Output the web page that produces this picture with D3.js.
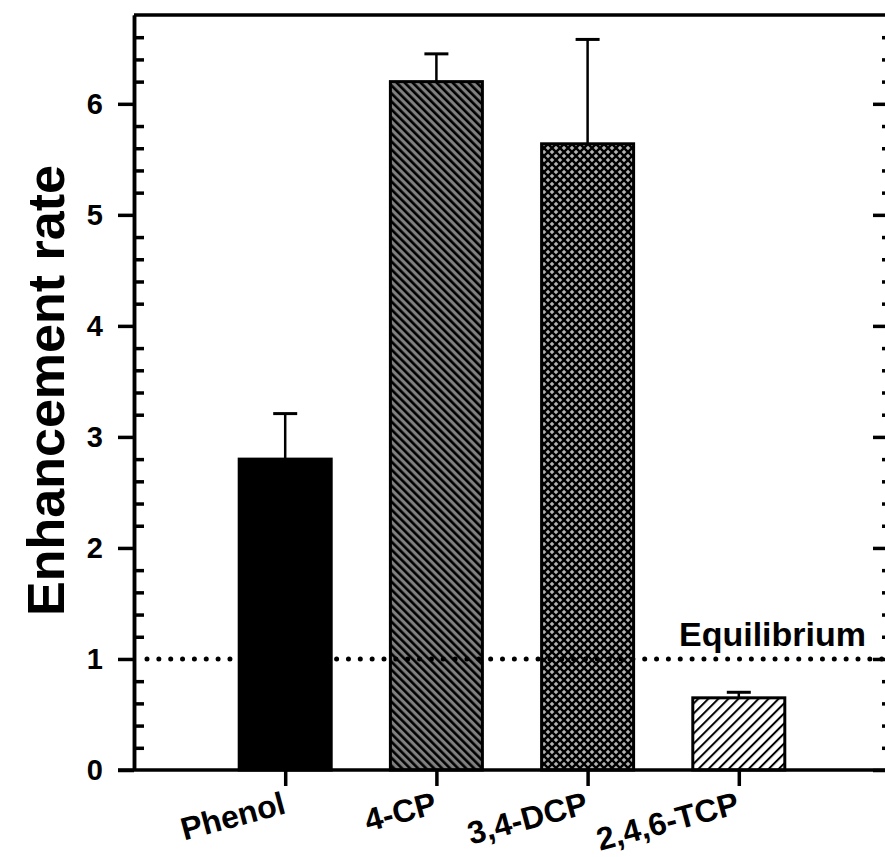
<!DOCTYPE html>
<html>
<head>
<meta charset="utf-8">
<script src="https://cdn.jsdelivr.net/npm/d3@7"></script>
<style>
  body { margin: 0; background: #fff; }
  text { font-family: "Liberation Sans", Arial, sans-serif; font-weight: bold; fill: #000; }
</style>
</head>
<body>
<div class="chart"></div>
<script>
// data
var categories = ["Phenol", "4-CP", "3,4-DCP", "2,4,6-TCP"];
var values = [2.80, 6.20, 5.64, 0.65];
var errors = [0.41, 0.25, 0.94, 0.05];
var patterns = ["solid", "back", "cross", "fwd"];
var majorTicks = [0, 1, 2, 3, 4, 5, 6];
var equilibrium = 1;

var svgWidth = 885;
var svgHeight = 857;

var svg = d3.select(".chart")
  .append("svg")
  .attr("width", svgWidth)
  .attr("height", svgHeight);

// plot frame (the right edge falls just outside the picture)
var plotLeft = 134, plotRight = 890, plotTop = 15, plotBottom = 770;

var y = d3.scaleLinear().domain([0, 6.8]).range([plotBottom, plotTop]);
var x = d3.scalePoint().domain(categories).range([plotLeft, plotRight]).padding(1);
var barWidth = 92;

// patterns
var defs = svg.append("defs");

// grey with black "\" stripes
var pBack = defs.append("pattern")
  .attr("id", "back")
  .attr("patternUnits", "userSpaceOnUse")
  .attr("width", 5.66).attr("height", 10)
  .attr("patternTransform", "rotate(-45)");
pBack.append("rect").attr("width", 5.66).attr("height", 10).attr("fill", "#808080");
pBack.append("rect").attr("width", 2.6).attr("height", 10).attr("fill", "#000");

// white with black "/" stripes
var pFwd = defs.append("pattern")
  .attr("id", "fwd")
  .attr("patternUnits", "userSpaceOnUse")
  .attr("width", 7.1).attr("height", 10)
  .attr("patternTransform", "rotate(45)");
pFwd.append("rect").attr("width", 7.1).attr("height", 10).attr("fill", "#fff");
pFwd.append("rect").attr("width", 2).attr("height", 10).attr("fill", "#000");

// black crosshatch with grey diamonds
var pCross = defs.append("pattern")
  .attr("id", "cross")
  .attr("patternUnits", "userSpaceOnUse")
  .attr("width", 8).attr("height", 8);
pCross.append("rect").attr("width", 8).attr("height", 8).attr("fill", "#000");
[[4, 4], [0, 0], [8, 0], [0, 8], [8, 8]].forEach(function(c) {
  var r = 2.3;
  pCross.append("polygon")
    .attr("points", [[c[0], c[1] - r], [c[0] + r, c[1]], [c[0], c[1] + r], [c[0] - r, c[1]]].join(" "))
    .attr("fill", "#b4b4b4");
});

function fillFor(p) { return p === "solid" ? "#000" : "url(#" + p + ")"; }

// minor tick values
var minorTicks = d3.range(0, 34).map(function(i) { return +(i * 0.2).toFixed(1); })
  .filter(function(v) { return v % 1 !== 0; });

// left axis: major outward, minor inward
svg.append("g")
  .attr("class", "y-axis")
  .attr("transform", "translate(" + plotLeft + ",0)")
  .call(d3.axisLeft(y).tickValues(majorTicks).tickSize(16).tickSizeOuter(0).tickPadding(15).tickFormat(d3.format("d")));
svg.append("g")
  .attr("class", "y-minor")
  .attr("transform", "translate(" + plotLeft + ",0)")
  .call(d3.axisLeft(y).tickValues(minorTicks).tickSize(-10).tickSizeOuter(0).tickFormat(""));

// right axis, ticks inward
svg.append("g")
  .attr("class", "y-right")
  .attr("transform", "translate(" + plotRight + ",0)")
  .call(d3.axisRight(y).tickValues(majorTicks).tickSize(-17).tickSizeOuter(0).tickFormat(""));
svg.append("g")
  .attr("class", "y-right-minor")
  .attr("transform", "translate(" + plotRight + ",0)")
  .call(d3.axisRight(y).tickValues(minorTicks).tickSize(-8).tickSizeOuter(0).tickFormat(""));

// top frame
svg.append("line")
  .attr("x1", plotLeft).attr("x2", plotRight)
  .attr("y1", y(6.8)).attr("y2", y(6.8))
  .attr("stroke", "#000").attr("stroke-width", 3.5);

// bars
svg.append("g").selectAll("rect")
  .data(categories)
  .enter()
  .append("rect")
  .attr("x", function(d) { return x(d) - barWidth / 2; })
  .attr("y", function(d, i) { return y(values[i]); })
  .attr("width", barWidth)
  .attr("height", function(d, i) { return y(0) - y(values[i]); })
  .attr("fill", function(d, i) { return fillFor(patterns[i]); })
  .attr("stroke", "#000")
  .attr("stroke-width", 3);

// error bars (upper only)
var err = svg.append("g").selectAll("g")
  .data(categories)
  .enter()
  .append("g");
err.append("line")
  .attr("x1", function(d) { return x(d); })
  .attr("x2", function(d) { return x(d); })
  .attr("y1", function(d, i) { return y(values[i]); })
  .attr("y2", function(d, i) { return y(values[i] + errors[i]); })
  .attr("stroke", "#000").attr("stroke-width", 2.5);
err.append("line")
  .attr("x1", function(d) { return x(d) - 12; })
  .attr("x2", function(d) { return x(d) + 12; })
  .attr("y1", function(d, i) { return y(values[i] + errors[i]); })
  .attr("y2", function(d, i) { return y(values[i] + errors[i]); })
  .attr("stroke", "#000").attr("stroke-width", 3);

// equilibrium dotted line
svg.append("line")
  .attr("x1", plotLeft + 13).attr("x2", plotRight)
  .attr("y1", y(equilibrium)).attr("y2", y(equilibrium))
  .attr("stroke", "#000")
  .attr("stroke-width", 5)
  .attr("stroke-linecap", "round")
  .attr("stroke-dasharray", "0 11.85");

svg.append("text")
  .attr("x", 866)
  .attr("y", y(equilibrium) - 13)
  .attr("text-anchor", "end")
  .style("font-size", "34px")
  .text("Equilibrium");

// bottom axis
var xAxis = svg.append("g")
  .attr("class", "x-axis")
  .attr("transform", "translate(0," + plotBottom + ")")
  .call(d3.axisBottom(x).tickSize(16).tickSizeOuter(0).tickFormat(""));
xAxis.select(".domain").attr("d", "M" + (plotLeft - 16) + ",0H" + plotRight);

svg.selectAll(".y-axis text")
  .style("font-size", "29px");

svg.selectAll(".domain, .tick line")
  .attr("stroke", "#000")
  .attr("stroke-width", 3.5);

// rotated category labels
svg.append("g").selectAll("text")
  .data(categories)
  .enter()
  .append("text")
  .attr("text-anchor", "end")
  .attr("transform", function(d) { return "translate(" + (x(d) + 2) + "," + (plotBottom + 43) + ") rotate(-15)"; })
  .style("font-size", "32px")
  .text(function(d) { return d; });

// y axis title
svg.append("text")
  .attr("text-anchor", "middle")
  .attr("transform", "translate(64," + ((plotTop + plotBottom) / 2 - 2) + ") rotate(-90)")
  .style("font-size", "52px")
  .text("Enhancement rate");
</script>
</body>
</html>
